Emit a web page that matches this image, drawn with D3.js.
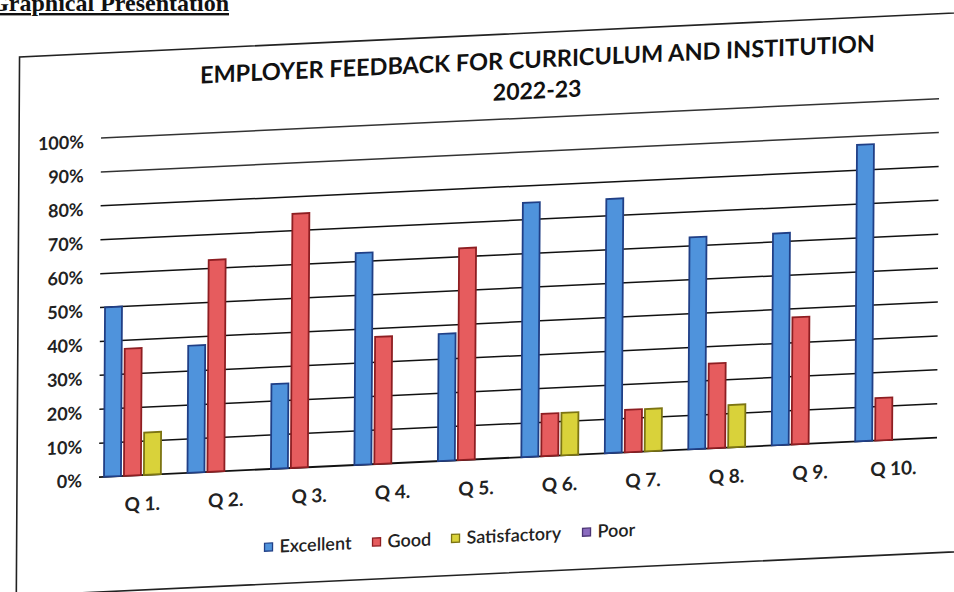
<!DOCTYPE html>
<html>
<head>
<meta charset="utf-8">
<script src="https://cdn.jsdelivr.net/npm/d3@7"></script>
<style>
  html, body { margin: 0; padding: 0; background: #fff; }
  svg { display: block; }
</style>
</head>
<body>
<svg id="chart" width="954" height="592"></svg>
<script>
// Employer feedback survey, share of responses per question
const categories = ["Q 1.", "Q 2.", "Q 3.", "Q 4.", "Q 5.", "Q 6.", "Q 7.", "Q 8.", "Q 9.", "Q 10."];
const seriesNames = ["Excellent", "Good", "Satisfactory", "Poor"];
const excellent    = [50, 37.5, 25, 62.5, 37.5, 75, 75, 62.5, 62.5, 87.5];
const good         = [37.5, 62.5, 75, 37.5, 62.5, 12.5, 12.5, 25, 37.5, 12.5];
const satisfactory = [12.5, 0, 0, 0, 0, 12.5, 12.5, 12.5, 0, 0];
const poor         = [0, 0, 0, 0, 0, 0, 0, 0, 0, 0];
const yTicks = [0, 10, 20, 30, 40, 50, 60, 70, 80, 90, 100];
const titleLines = ["EMPLOYER FEEDBACK FOR CURRICULUM  AND INSTITUTION", "2022-23"];

const fills   = ["#4f93dc", "#e65c5e", "#d9d23a", "#8a6bbf"];
const strokes = ["#203f86", "#8e1e22", "#7c7412", "#4b3474"];
const values = [excellent, good, satisfactory, poor];

const svg = d3.select("#chart");

// Page heading above the chart
svg.append("text")
  .attr("x", 229).attr("y", 11)
  .attr("text-anchor", "end")
  .style("font-family", "'Liberation Serif', 'Times New Roman', serif")
  .style("font-weight", "bold")
  .style("font-size", "24px")
  .style("text-decoration", "underline")
  .attr("fill", "#111")
  .text("Graphical Presentation");

// The printed sheet sits at a slight slant; the chart is drawn in a sheared frame
const b = -0.047, c = -0.006, px = 100, py = 477;
const g = svg.append("g")
  .attr("transform", `matrix(1, ${b}, ${c}, 1, ${-c * py}, ${-b * px})`);

// Chart border
g.append("rect")
  .attr("x", 17).attr("y", 53)
  .attr("width", 1000).attr("height", 539)
  .attr("fill", "none")
  .attr("stroke", "#222")
  .attr("stroke-width", 1.6);

const plot = { left: 99, right: 937, top: 138, bottom: 477 };

const x = d3.scaleBand()
  .domain(categories)
  .range([plot.left, plot.right])
  .paddingInner(0.08)
  .paddingOuter(0.06);

const xSub = d3.scaleBand()
  .domain(seriesNames)
  .range([0, x.bandwidth()])
  .paddingInner(0.15);

const y = d3.scaleLinear()
  .domain([0, 100])
  .range([plot.bottom, plot.top]);

// Title
const title = g.append("g")
  .attr("font-family", "Lato, 'Open Sans', sans-serif")
  .attr("font-weight", "bold")
  .attr("fill", "#111")
  .attr("text-anchor", "middle");
title.append("text").attr("x", 535).attr("y", 88)
  .style("font-size", "23.5px").text(titleLines[0]);
title.append("text").attr("x", 535).attr("y", 119)
  .style("font-size", "23px").text(titleLines[1]);

// Gridlines
g.append("g")
  .selectAll("line")
  .data(yTicks)
  .join("line")
  .attr("x1", plot.left).attr("x2", plot.right)
  .attr("y1", d => y(d)).attr("y2", d => y(d))
  .attr("stroke", d => d >= 90 ? "#333" : "#111")
  .attr("stroke-width", d => d === 0 ? 1.8 : 1.5);

// Y axis labels
const yAxis = d3.axisLeft(y)
  .tickValues(yTicks)
  .tickFormat(d => d + "%")
  .tickSize(0)
  .tickPadding(0);
const yg = g.append("g")
  .attr("transform", `translate(${plot.left - 17},3)`)
  .call(yAxis);
yg.select(".domain").remove();
yg.selectAll("text")
  .style("font-family", "Lato, 'Open Sans', sans-serif")
  .style("font-weight", "bold")
  .style("font-size", "18px")
  .attr("fill", "#222");

// X axis labels
const xAxis = d3.axisBottom(x).tickSize(0).tickPadding(0);
const xg = g.append("g")
  .attr("transform", `translate(0,${plot.bottom + 22})`)
  .call(xAxis);
xg.select(".domain").remove();
xg.selectAll("text")
  .style("font-family", "Lato, 'Open Sans', sans-serif")
  .style("font-weight", "bold")
  .style("font-size", "19px")
  .attr("fill", "#222");

// Bars
const barData = [];
categories.forEach((cat, i) => {
  seriesNames.forEach((s, j) => {
    barData.push({ cat, series: s, idx: j, value: values[j][i] });
  });
});

g.append("g")
  .selectAll("rect")
  .data(barData.filter(d => d.value > 0))
  .join("rect")
  .attr("x", d => x(d.cat) + xSub(d.series))
  .attr("y", d => y(d.value))
  .attr("width", xSub.bandwidth())
  .attr("height", d => y(0) - y(d.value))
  .attr("fill", d => fills[d.idx])
  .attr("stroke", d => strokes[d.idx])
  .attr("stroke-width", 1.8);

// Legend
const legendX = [265, 373, 452, 583];
const legend = g.append("g")
  .selectAll("g")
  .data(seriesNames)
  .join("g")
  .attr("transform", (d, i) => `translate(${legendX[i]},555)`);
legend.append("rect")
  .attr("x", 0).attr("y", -4)
  .attr("width", 8).attr("height", 8)
  .attr("fill", (d, i) => fills[i])
  .attr("stroke", (d, i) => strokes[i])
  .attr("stroke-width", 1.3);
legend.append("text")
  .attr("x", 15).attr("y", 6)
  .style("font-family", "Lato, 'Open Sans', sans-serif")
  .style("font-size", "18px")
  .style("font-weight", "600")
  .attr("fill", "#222")
  .text(d => d);
</script>
</body>
</html>
